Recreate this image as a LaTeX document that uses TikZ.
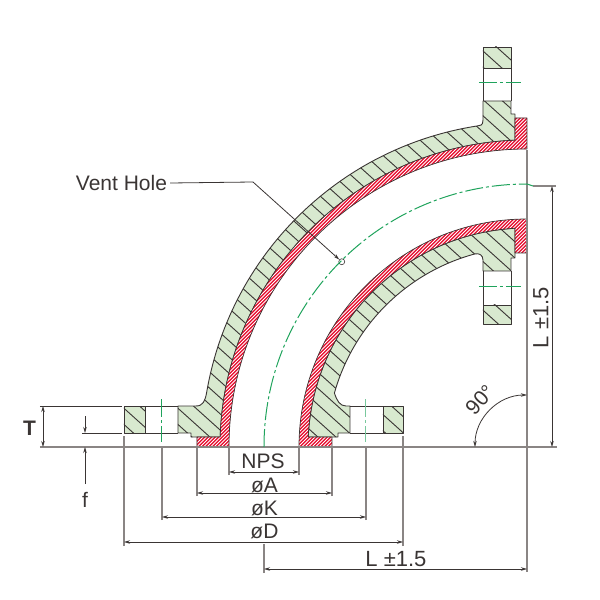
\documentclass[tikz,border=0pt]{standalone}
\usepackage{fontspec}
\setmainfont{Liberation Sans}
\usetikzlibrary{arrows.meta}
\definecolor{bodygreen}{HTML}{D8E9CF}
\definecolor{liningred}{HTML}{E60A2C}
\definecolor{inkdark}{HTML}{3A3534}
\definecolor{inkgray}{HTML}{8A8584}
\definecolor{axisgreen}{HTML}{1FA35C}
\newcommand{\outerBody}{(-349,14) -- (-336,14) -- (-336,10) -- (-306.8,10) arc[start angle=178.13,end angle=92.24,radius=307pt] -- (-12,333) -- (-16,333) -- (-16,346) -- (-44,346) -- (-44,327) .. controls (-44,321) and (-47,321.5) .. (-50,321) arc[start angle=98.85,end angle=170.44,radius=325pt] .. controls (-322,46) and (-324,41) .. (-331,41) -- (-349,41) -- cycle}
\newcommand{\innerBody}{(-177,14) -- (-189,14) -- (-189,10) -- (-218.8,10) arc[start angle=177.4,end angle=93.14,radius=219pt] -- (-12,189) -- (-16,189) -- (-16,176) -- (-44,176) -- (-44,187) .. controls (-44,192) and (-48,194) .. (-52,193.1) arc[start angle=105.07,end angle=164.34,radius=200pt] .. controls (-190,46) and (-187,41) .. (-181,41) -- (-177,41) -- cycle}
\newcommand{\outerLining}{(-330,0) -- (-298,0) arc[start angle=180,end angle=90,radius=298pt] -- (0,329) -- (-12,329) -- (-12,306.8) arc[start angle=92.24,end angle=178.13,radius=307pt] -- (-330,10) -- cycle}
\newcommand{\innerLining}{(-228,0) -- (-195,0) -- (-195,10) -- (-218.8,10) arc[start angle=177.4,end angle=93.14,radius=219pt] -- (-12,194) -- (0,194) -- (0,228) arc[start angle=90,end angle=180,radius=228pt] -- cycle}
\newcommand{\hatchGreen}[1]{\begin{scope}
  \path[clip] #1;
  \foreach \s in {-900,-882,...,500} \draw[bodyhatch] (\s+500,-450) -- (\s-500,450);
\end{scope}}
\newcommand{\hatchRed}[1]{\begin{scope}
  \path[clip] #1;
  \foreach \s in {-600,-596.5,...,600} \draw[white,line width=.8pt] (\s-400,-400) -- (\s+400,400);
\end{scope}}
\tikzset{
  bodyhatch/.style={inkdark,line width=.9pt},
  bodyline/.style={inkdark,line width=.9pt,line join=round},
  dimline/.style={inkdark,line width=.8pt,{Stealth[length=6pt,width=3.5pt]}-{Stealth[length=6pt,width=3.5pt]}},
  arrowline/.style={inkdark,line width=.8pt,-{Stealth[length=6pt,width=3.5pt]}},
  extline/.style={inkgray,line width=1.1pt},
  axisline/.style={axisgreen,line width=1pt,dash pattern=on 18pt off 3pt on 3pt off 3pt},
  dimlabel/.style={inner sep=0pt,font=\fontsize{21}{24}\selectfont,text=inkdark}
}
\begin{document}
\begin{tikzpicture}[x=1pt,y=1pt]
\useasboundingbox (-527,-153) rectangle (73,447);
% bodies
\fill[bodygreen] \outerBody;
\fill[bodygreen] \innerBody;
\fill[bodygreen] (-403,14) rectangle (-382,41);
\fill[bodygreen] (-144,14) rectangle (-124,41);
\fill[bodygreen] (-44,379) rectangle (-16,400);
\fill[bodygreen] (-44,123) rectangle (-16,142);
\hatchGreen{\outerBody}
\hatchGreen{\innerBody}
\hatchGreen{(-403,14) rectangle (-382,41)}
\hatchGreen{(-144,14) rectangle (-124,41)}
\hatchGreen{(-44,379) rectangle (-16,400)}
\hatchGreen{(-44,123) rectangle (-16,142)}
\draw[bodyline] \outerBody;
\draw[bodyline] \innerBody;
\draw[bodyline] (-403,14) rectangle (-382,41);
\draw[bodyline] (-144,14) rectangle (-124,41);
\draw[bodyline] (-44,379) rectangle (-16,400);
\draw[bodyline] (-44,123) rectangle (-16,142);
% bolt holes
\draw[bodyline] (-382,41) -- (-349,41) (-382,14) -- (-349,14);
\draw[bodyline] (-177,41) -- (-144,41) (-177,14) -- (-144,14);
\draw[bodyline] (-44,379) -- (-44,346) (-16,379) -- (-16,346);
\draw[bodyline] (-44,176) -- (-44,142) (-16,176) -- (-16,142);
% lining
\fill[liningred] \outerLining;
\fill[liningred] \innerLining;
\hatchRed{\outerLining}
\hatchRed{\innerLining}
\draw[bodyline,line width=.7pt] \outerLining;
\draw[bodyline,line width=.7pt] \innerLining;
% named points
\coordinate (faceLeft)    at (-487,0);
\coordinate (faceRight)   at (30,0);
\coordinate (backLeft)    at (-487,41);
\coordinate (backFlange)  at (-405,41);
\coordinate (raisedLeft)  at (-445,14);
\coordinate (raisedRight) at (-405,14);
\coordinate (topEdge)     at (0,297);
\coordinate (lowEnd)      at (0,-125);
\coordinate (axisLeft)    at (-263,0);
\coordinate (axisEnd)     at (6,261);
\coordinate (axisDim)     at (29,261);
\coordinate (lTopEnd)     at (25,261);
\coordinate (lTopLow)     at (25,0);
\coordinate (tUp)         at (-484,41);
\coordinate (tLow)        at (-484,0);
\coordinate (fTop)        at (-442,31);
\coordinate (fUpper)      at (-442,14);
\coordinate (fLower)      at (-442,0);
\coordinate (fEnd)        at (-442,-37);
\coordinate (npsLeft)     at (-298,-25);
\coordinate (npsRight)    at (-228,-25);
\coordinate (aLeft)       at (-330,-46);
\coordinate (aRight)      at (-195,-46);
\coordinate (kLeft)       at (-365,-70);
\coordinate (kRight)      at (-161,-70);
\coordinate (dLeft)       at (-403,-95);
\coordinate (dRight)      at (-124,-95);
\coordinate (lLeft)       at (-263,-122);
\coordinate (lRight)      at (0,-122);
\coordinate (ventTurn)    at (-274,265);
\coordinate (angleStart)  at (-52,0);
% labels
\node[dimlabel] (npsLabel)  at (-264,-14)  {NPS};
\node[dimlabel] (aLabel)    at (-262.5,-38)  {øA};
\node[dimlabel] (kLabel)    at (-262.5,-61.5)  {øK};
\node[dimlabel] (dLabel)    at (-262.5,-84)  {øD};
\node[dimlabel,font=\fontsize{22}{24}\selectfont] (lLabel) at (-131,-112.5) {L ±1.5};
\node[dimlabel,font=\fontsize{22}{24}\selectfont,rotate=90] (lSideLabel) at (14,129.5) {L ±1.5};
\node[dimlabel,rotate=48] (angleLabel) at (-47,47) {90°};
\node[dimlabel] (fLabel)    at (-442,-52.5)    {f};
\node[dimlabel,font=\fontsize{21}{24}\selectfont\bfseries] (tLabel) at (-497.5,19) {T};
\node[dimlabel] (ventLabel) at (-405.5,264)    {Vent Hole};
\node[draw=inkdark,circle,inner sep=0pt,minimum size=6pt,line width=.6pt] (ventHole) at (135:262) {};
% extension lines
\draw[extline] (faceLeft) -- (faceRight);
\draw[extline] (topEdge) -- (lowEnd);
\draw[extline] (axisDim) -- (axisEnd);
\draw[extline,inkdark,line width=.9pt] (backLeft) -- (backFlange);
\draw[extline,inkdark,line width=.8pt] (raisedLeft) -- (raisedRight);
\draw[extline] (npsLeft) ++(0,-3) -- (-298,0);
\draw[extline] (npsRight) ++(0,-3) -- (-228,0);
\draw[extline] (aLeft) ++(0,-3) -- (-330,-1);
\draw[extline] (aRight) ++(0,-3) -- (-195,-1);
\draw[extline] (kLeft) ++(0,-3) -- (-365,0);
\draw[extline] (kRight) ++(0,-3) -- (-161,0);
\draw[extline] (dLeft) ++(0,-4) -- (-403,11);
\draw[extline] (dRight) ++(0,-4) -- (-124,11);
\draw[extline] (lLeft) ++(0,-4) -- (-263,-97);
% dimensions
\draw[dimline] (npsLeft) -- (npsRight);
\draw[dimline] (aLeft) -- (aRight);
\draw[dimline] (kLeft) -- (kRight);
\draw[dimline] (dLeft) -- (dRight);
\draw[dimline] (lLeft) -- (lRight);
\draw[dimline] (lTopEnd) -- (lTopLow);
\draw[dimline] (tUp) -- (tLow);
\draw[arrowline] (fTop) -- (fUpper);
\draw[arrowline] (fEnd) -- (fLower);
\draw[dimline] (angleStart) arc[start angle=180,end angle=90,radius=52pt];
\draw[inkdark,line width=.8pt] (ventLabel.east) ++(3,0) -- (ventTurn);
\draw[arrowline] (ventTurn) -- (ventHole);
% centre lines
\draw[axisline] (axisLeft) arc[start angle=180,end angle=90,radius=263pt] -- (axisEnd);
\draw[axisline] (-365,48) -- (-365,5);
\draw[axisline,axisgreen!60] (-161,48) -- (-161,5);
\draw[axisline] (-48,364) -- (-6,364);
\draw[axisline] (-48,160) -- (-6,160);
\end{tikzpicture}
\end{document}
